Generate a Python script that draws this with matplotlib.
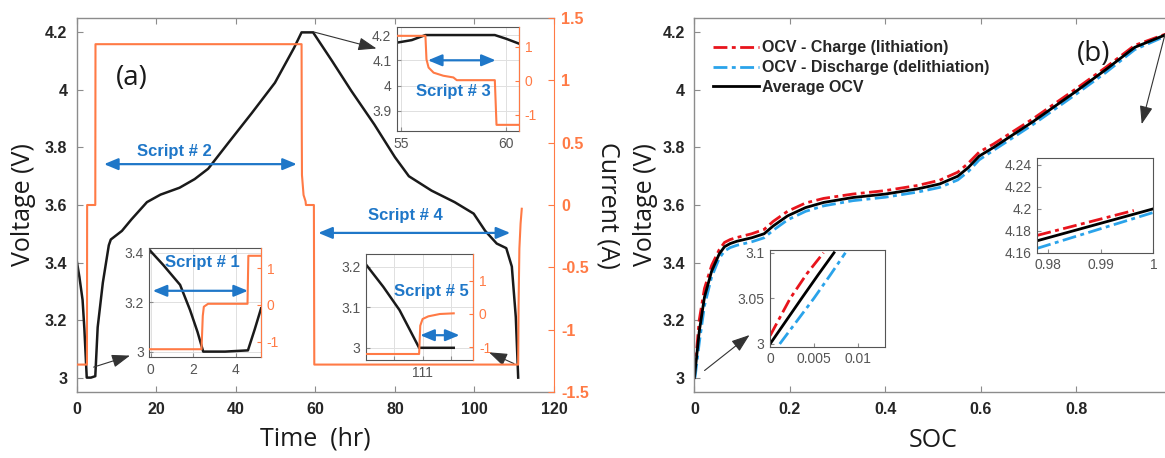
import matplotlib
matplotlib.use("Agg")
import matplotlib.pyplot as plt
from matplotlib.ticker import FuncFormatter

plt.rcParams['font.family'] = ['Liberation Sans', 'DejaVu Sans']

# ---- panel (a): full test, voltage + current vs time ----
t_volt = [0, 0.6, 1.4, 1.85, 2.45, 3.5, 4.6, 5.2, 6.5, 8.0, 8.5, 11.3, 13.7, 17.6, 21, 25.8, 29.6,
          33, 38.3, 44, 49.8, 54.6, 56.5, 59.4, 64.2, 69, 74.8, 80, 83.5, 89.2, 95, 99.8,
          102.7, 105.6, 108, 109.4, 110.4, 111]
volt = [3.4, 3.35, 3.27, 3.17, 3.0, 3.0, 3.005, 3.175, 3.33, 3.46, 3.48, 3.51, 3.55, 3.61, 3.636, 3.66, 3.69,
        3.726, 3.82, 3.92, 4.025, 4.146, 4.2, 4.2, 4.1, 3.997, 3.88, 3.766, 3.70, 3.65, 3.61, 3.57,
        3.51, 3.466, 3.45, 3.386, 3.21, 3.0]

t_curr = [0, 2.5, 2.55, 4.6, 4.65, 56.5, 56.55, 56.6, 57.0, 57.5, 57.6, 59.6, 59.7,
          111.0, 111.1, 111.3, 111.6, 111.9]
curr = [-1.28, -1.28, 0.0, 0.0, 1.29, 1.29, 0.6, 0.24, 0.08, 0.03, 0.0, 0.0, -1.28,
        -1.28, -0.8, -0.35, -0.15, -0.03]

# inset: script 3 (around the top of charge)
t3_volt = [54.8, 55.5, 56.15, 57, 58, 59.45, 60.0, 60.6]
volt3 = [4.17, 4.18, 4.2, 4.2, 4.2, 4.2, 4.185, 4.166]
t3_curr = [54.8, 56.15, 56.2, 56.3, 56.54, 57.0, 57.48, 57.64, 59.45, 59.53, 60.6]
curr3 = [1.32, 1.32, 0.63, 0.39, 0.24, 0.15, 0.1, 0.02, 0.02, -1.29, -1.29]

# inset: script 1 (start of test)
t1_volt = [-0.05, 0.59, 1.38, 1.85, 2.2, 2.47, 3.5, 4.58, 4.9, 5.2]
volt1 = [3.41, 3.35, 3.27, 3.168, 3.08, 3.0, 3.0, 3.005, 3.09, 3.175]
t1_curr = [-0.05, 2.39, 2.45, 2.5, 2.7, 4.56, 4.6, 5.2]
curr1 = [-1.21, -1.21, -0.3, -0.05, 0.03, 0.03, 1.34, 1.34]

# inset: script 5 (end of test)
t5_volt = [110.51, 110.66, 110.8, 110.89, 110.97, 111.27]
volt5 = [3.205, 3.15, 3.093, 3.044, 3.0, 3.0]
t5_curr = [110.51, 110.97, 110.98, 111.0, 111.05, 111.15, 111.27]
curr5 = [-1.2, -1.2, -0.35, -0.15, -0.07, 0.0, 0.02]

# ---- panel (b): OCV vs SOC ----
soc_avg = [0, 0.01, 0.021, 0.036, 0.052, 0.063, 0.075, 0.089, 0.12, 0.146, 0.165, 0.195, 0.233,
           0.271, 0.332, 0.4, 0.468, 0.514, 0.552, 0.574, 0.597, 0.627, 0.71, 0.8, 0.862, 0.923, 1.0]
ocv_avg = [3.0, 3.16, 3.28, 3.37, 3.43, 3.455, 3.466, 3.474, 3.486, 3.50, 3.527, 3.562, 3.591,
           3.609, 3.626, 3.638, 3.656, 3.673, 3.70, 3.73, 3.77, 3.80, 3.89, 3.995, 4.07, 4.148, 4.2]
soc_chg = [0, 0.01, 0.021, 0.036, 0.052, 0.063, 0.075, 0.089, 0.12, 0.146, 0.165, 0.195, 0.233,
           0.271, 0.332, 0.4, 0.468, 0.514, 0.552, 0.574, 0.597, 0.627, 0.71, 0.8, 0.862, 0.923, 0.996]
ocv_chg = [3.01, 3.2, 3.31, 3.39, 3.445, 3.47, 3.48, 3.487, 3.5, 3.515, 3.543, 3.578, 3.607,
           3.623, 3.638, 3.65, 3.668, 3.686, 3.714, 3.745, 3.784, 3.812, 3.9, 4.004, 4.078, 4.155, 4.199]
soc_dis = [0.0012, 0.01, 0.021, 0.036, 0.052, 0.063, 0.075, 0.089, 0.12, 0.146, 0.165, 0.195, 0.233,
           0.271, 0.332, 0.4, 0.468, 0.514, 0.552, 0.574, 0.597, 0.627, 0.71, 0.8, 0.862, 0.923, 1.0]
ocv_dis = [3.0, 3.12, 3.25, 3.35, 3.415, 3.44, 3.452, 3.46, 3.472, 3.486, 3.512, 3.548, 3.578,
           3.597, 3.615, 3.627, 3.645, 3.661, 3.687, 3.716, 3.757, 3.79, 3.88, 3.985, 4.06, 4.14, 4.196]

# zoom near SOC = 0
soc0_chg = [0, 0.0023, 0.0042, 0.0061]
ocv0_chg = [3.009, 3.05, 3.077, 3.1]
soc0_avg = [0, 0.0036, 0.0055, 0.0073]
ocv0_avg = [3.0, 3.05, 3.076, 3.1]
soc0_dis = [0.0011, 0.005, 0.0069, 0.0086]
ocv0_dis = [3.0, 3.05, 3.076, 3.1]

# zoom near SOC = 1
soc1_chg = [0.978, 0.9963]
ocv1_chg = [4.1758, 4.1985]
soc1_avg = [0.978, 1.0]
ocv1_avg = [4.1709, 4.2]
soc1_dis = [0.978, 1.0]
ocv1_dis = [4.164, 4.1967]

ORANGE = '#FF7A45'
BLUE = '#1F77C8'
RED = '#E8141C'
LBLUE = '#2AA3EA'
GRAY = '#8c8c8c'
TXT = '#262626'
DASHDOT = (0, (5, 1.6, 1.4, 1.6))
fmt = FuncFormatter(lambda v, p: f'{v:g}')
LABEL_FONT = dict(family=['Open Sans', 'DejaVu Sans'], fontsize=18, color='#1a1a1a')

fig = plt.figure(figsize=(11.65, 4.58), dpi=100)


def style_main(ax):
    for s in ax.spines.values():
        s.set_color(GRAY)
        s.set_linewidth(1.0)
    ax.tick_params(direction='in', length=4, width=0.8, color=GRAY, top=True,
                   labelsize=11.5, labelcolor=TXT, pad=7)


def bold_ticks(ax):
    for lab in ax.get_xticklabels() + ax.get_yticklabels():
        lab.set_fontweight('bold')


def inset(rect, xlim, ylim, ylim2, xticks, xlabels, yticks, yticks2):
    a = fig.add_axes(rect)
    a.set_facecolor('white')
    a.set_xlim(xlim)
    a.set_ylim(ylim)
    a.set_xticks(xticks)
    a.set_xticklabels(xlabels)
    a.set_yticks(yticks)
    a.yaxis.set_major_formatter(fmt)
    a.grid(True, color='#e0e0e0', lw=0.7)
    for s in a.spines.values():
        s.set_color('#555555')
    a.tick_params(direction='in', length=3, color=GRAY, labelsize=10, labelcolor='#555555', pad=4)
    b = a.twinx()
    b.set_ylim(ylim2)
    b.set_yticks(yticks2)
    b.yaxis.set_major_formatter(fmt)
    b.spines['right'].set_color(ORANGE)
    for k in ('left', 'top', 'bottom'):
        b.spines[k].set_visible(False)
    b.tick_params(direction='in', length=3, color=ORANGE, labelsize=10, labelcolor=ORANGE, pad=4)
    return a, b


# ---------------- panel (a) ----------------
ax1 = fig.add_axes([0.0661, 0.1441, 0.4094, 0.8166])
ax1.plot(t_volt, volt, color='#1a1a1a', lw=1.8)
ax1.set_xlim(0, 120)
ax1.set_ylim(2.95, 4.25)
ax1.set_xticks(range(0, 121, 20))
ax1.set_yticks([3, 3.2, 3.4, 3.6, 3.8, 4, 4.2])
ax1.yaxis.set_major_formatter(fmt)
style_main(ax1)
ax1.spines['right'].set_visible(False)
ax1.set_xlabel('Time  (hr)', va='center', **LABEL_FONT)
ax1.xaxis.set_label_coords(0.5, -0.125)
ax1.set_ylabel('Voltage (V)', va='center', **LABEL_FONT)
ax1.yaxis.set_label_coords(-0.113, 0.5)

ax1b = ax1.twinx()
ax1b.plot(t_curr, curr, color=ORANGE, lw=1.5)
ax1b.set_ylim(-1.5, 1.5)
ax1b.set_yticks([-1.5, -1, -0.5, 0, 0.5, 1, 1.5])
ax1b.yaxis.set_major_formatter(fmt)
for k in ('left', 'top', 'bottom'):
    ax1b.spines[k].set_visible(False)
ax1b.spines['right'].set_color(ORANGE)
ax1b.tick_params(direction='in', length=4, width=0.8, color=ORANGE, labelsize=11.5,
                 labelcolor=ORANGE, pad=5)
ax1b.set_ylabel('Current (A)', rotation=270, va='center', **LABEL_FONT)
ax1b.yaxis.set_label_coords(1.113, 0.5)

ax1.text(13.9, 4.04, '(a)', fontsize=20, family=['Open Sans', 'DejaVu Sans'],
         ha='center', va='center', color='#1a1a1a')

arrow2 = dict(arrowstyle='<|-|>,head_length=0.6,head_width=0.25', color=BLUE, lw=1.6,
              shrinkA=0, shrinkB=0, mutation_scale=14)
ax1.annotate('', xy=(55.3, 3.742), xytext=(6.8, 3.742), arrowprops=arrow2)
ax1.text(24.4, 3.786, 'Script # 2', color=BLUE, fontsize=12, fontweight='bold', ha='center', va='center')
ax1.annotate('', xy=(109, 3.503), xytext=(60.7, 3.503), arrowprops=arrow2)
ax1.text(82.5, 3.5635, 'Script # 4', color=BLUE, fontsize=12, fontweight='bold', ha='center', va='center')

pointer = dict(arrowstyle='-|>,head_length=0.7,head_width=0.25', color='#333333', lw=0.8,
               shrinkA=0, shrinkB=0, mutation_scale=16)
ax1.annotate('', xy=(75.35, 4.144), xytext=(59.5, 4.2017), arrowprops=pointer, annotation_clip=False)
ax1.annotate('', xy=(13.33, 3.0765), xytext=(4.18, 3.0365), arrowprops=pointer, annotation_clip=False)
ax1.annotate('', xy=(103.65, 3.088), xytext=(109.94, 3.0487), arrowprops=pointer, annotation_clip=False)

# inset script 3
a3, b3 = inset([0.3408, 0.714, 0.1047, 0.2271], (54.8, 60.6), (3.82, 4.232), (-1.47, 1.58),
               [55, 60], ['55', '60'], [3.9, 4.0, 4.1, 4.2], [-1, 0, 1])
a3.plot(t3_volt, volt3, color='#1a1a1a', lw=1.8)
b3.plot(t3_curr, curr3, color=ORANGE, lw=1.5)
a3.annotate('', xy=(59.49, 4.1), xytext=(56.27, 4.1), arrowprops=arrow2)
a3.text(57.46, 3.975, 'Script # 3', color=BLUE, fontsize=12, fontweight='bold', ha='center', va='center')

# inset script 1
a1, b1 = inset([0.1282, 0.2199, 0.0959, 0.238], (-0.07, 5.2), (2.977, 3.418), (-1.43, 1.545),
               [0, 2, 4], ['0', '2', '4'], [3.0, 3.2, 3.4], [-1, 0, 1])
a1.plot(t1_volt, volt1, color='#1a1a1a', lw=1.8)
b1.plot(t1_curr, curr1, color=ORANGE, lw=1.5)
a1.annotate('', xy=(4.58, 3.246), xytext=(0.09, 3.246), arrowprops=arrow2)
a1.text(2.45, 3.36, 'Script # 1', color=BLUE, fontsize=12, fontweight='bold', ha='center', va='center')

# inset script 5
a5, b5 = inset([0.3142, 0.214, 0.0921, 0.2314], (110.51, 111.44), (2.97, 3.231), (-1.38, 1.8),
               [110.75, 111, 111.25], ['', '111', ''], [3.0, 3.1, 3.2], [-1, 0, 1])
a5.plot(t5_volt, volt5, color='#1a1a1a', lw=1.8)
b5.plot(t5_curr, curr5, color=ORANGE, lw=1.5)
a5.annotate('', xy=(111.32, 3.031), xytext=(110.98, 3.031), arrowprops=arrow2)
a5.text(111.08, 3.138, 'Script # 5', color=BLUE, fontsize=12, fontweight='bold', ha='center', va='center')

# ---------------- panel (b) ----------------
ax2 = fig.add_axes([0.5961, 0.1441, 0.4094, 0.8166])
ax2.plot(soc_chg, ocv_chg, color=RED, lw=2, ls=DASHDOT, label='OCV - Charge (lithiation)')
ax2.plot(soc_dis, ocv_dis, color=LBLUE, lw=2, ls=DASHDOT, label='OCV - Discharge (delithiation)')
ax2.plot(soc_avg, ocv_avg, color='black', lw=2, label='Average OCV')
ax2.set_xlim(0, 1)
ax2.set_ylim(2.95, 4.25)
ax2.set_xticks([0, 0.2, 0.4, 0.6, 0.8, 1])
ax2.set_xticklabels(['0', '0.2', '0.4', '0.6', '0.8', ''])
ax2.set_yticks([3, 3.2, 3.4, 3.6, 3.8, 4, 4.2])
ax2.yaxis.set_major_formatter(fmt)
style_main(ax2)
ax2.tick_params(right=True)
ax2.set_xlabel('SOC', va='center', **LABEL_FONT)
ax2.xaxis.set_label_coords(0.5, -0.13)
ax2.set_ylabel('Voltage (V)', va='center', **LABEL_FONT)
ax2.yaxis.set_label_coords(-0.1036, 0.5)
leg = ax2.legend(loc='upper left', bbox_to_anchor=(0.038, 0.94), frameon=False, borderpad=0,
                 borderaxespad=0, handlelength=2.9, handletextpad=0.2, labelspacing=0.3,
                 prop=dict(family='Liberation Sans', weight='bold', size=11.5))
for txt in leg.get_texts():
    txt.set_color(TXT)
ax2.text(0.837, 4.125, '(b)', fontsize=20, family=['Open Sans', 'DejaVu Sans'],
         ha='center', va='center', color='#1a1a1a')
ax2.annotate('', xy=(0.9377, 3.881), xytext=(0.9866, 4.193), arrowprops=pointer, annotation_clip=False)
ax2.annotate('', xy=(0.1155, 3.148), xytext=(0.0212, 3.0247), arrowprops=pointer, annotation_clip=False)

# inset near SOC = 0
c0 = fig.add_axes([0.661, 0.243, 0.0985, 0.2111])
c0.plot(soc0_chg, ocv0_chg, color=RED, lw=2, ls=DASHDOT)
c0.plot(soc0_dis, ocv0_dis, color=LBLUE, lw=2, ls=DASHDOT)
c0.plot(soc0_avg, ocv0_avg, color='black', lw=2)
c0.set_xlim(0, 0.0131)
c0.set_ylim(2.997, 3.103)
c0.set_xticks([0, 0.005, 0.01])
c0.set_yticks([3, 3.05, 3.1])
c0.xaxis.set_major_formatter(fmt)
c0.yaxis.set_major_formatter(fmt)

# inset near SOC = 1
c1 = fig.add_axes([0.8904, 0.4483, 0.0996, 0.2059])
c1.plot(soc1_chg, ocv1_chg, color=RED, lw=2, ls=DASHDOT)
c1.plot(soc1_dis, ocv1_dis, color=LBLUE, lw=2, ls=DASHDOT)
c1.plot(soc1_avg, ocv1_avg, color='black', lw=2)
c1.set_xlim(0.978, 1.0)
c1.set_ylim(4.16, 4.246)
c1.set_xticks([0.98, 0.99, 1.0])
c1.set_yticks([4.16, 4.18, 4.2, 4.22, 4.24])
c1.xaxis.set_major_formatter(fmt)
c1.yaxis.set_major_formatter(fmt)

for c in (c0, c1):
    c.set_facecolor('white')
    for s in c.spines.values():
        s.set_color('#555555')
    c.tick_params(direction='in', length=3, color=GRAY, labelsize=10, labelcolor='#555555', pad=4)

for ax in (ax1, ax1b, ax2):
    bold_ticks(ax)

fig.savefig('out.png', dpi=100)
